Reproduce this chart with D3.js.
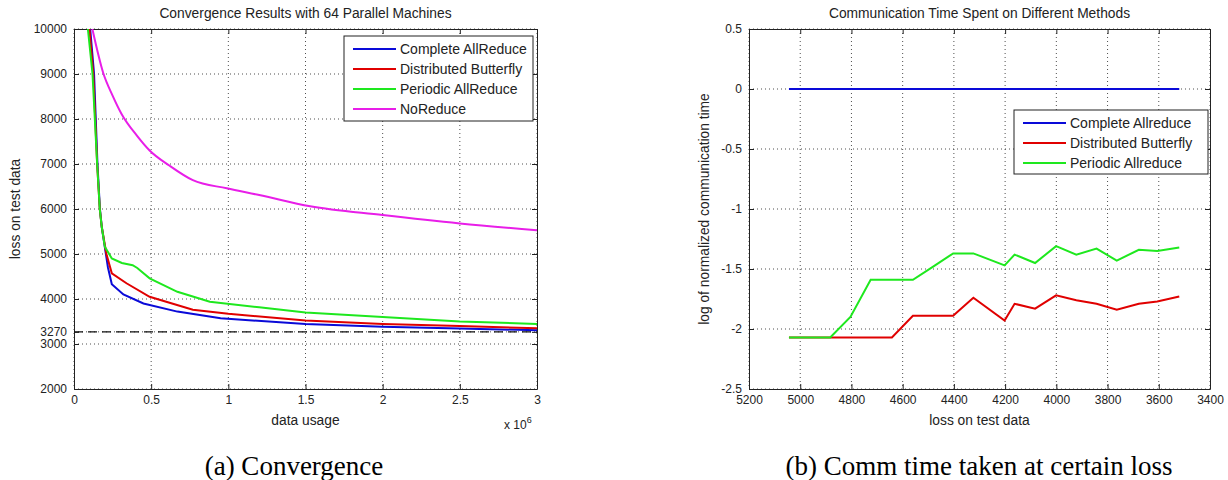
<!DOCTYPE html>
<html>
<head>
<meta charset="utf-8">
<script src="https://cdn.jsdelivr.net/npm/d3@7"></script>
<style>
  body { margin: 0; background: #fff; }
  text { font-family: "Liberation Sans", Arial, sans-serif; fill: #222; }
  .caption { font-family: "Liberation Serif", "Times New Roman", serif; fill: #000; }
</style>
</head>
<body>
<div id="chart"></div>
<script>
// ---- data: (a) convergence, x in units of 1e6 samples
const usageTicks = [0, 0.5, 1, 1.5, 2, 2.5, 3];
const lossTicks = [2000, 3000, 3270, 4000, 5000, 6000, 7000, 8000, 9000, 10000];

const usageComplete = [0.105, 0.13, 0.152, 0.168, 0.18, 0.22, 0.245, 0.32, 0.45, 0.67, 0.95, 1.5, 2.0, 2.5, 3.0];
const lossComplete  = [10000, 9000, 7000, 6000, 5600, 4700, 4330, 4100, 3900, 3720, 3570, 3445, 3385, 3345, 3305];

const usageButterfly = [0.1, 0.125, 0.15, 0.167, 0.18, 0.21, 0.245, 0.34, 0.49, 0.77, 1.0, 1.5, 2.0, 2.5, 3.0];
const lossButterfly  = [10000, 9000, 7000, 6000, 5600, 5000, 4570, 4350, 4050, 3760, 3670, 3520, 3445, 3400, 3350];

const usagePeriodic = [0.09, 0.12, 0.15, 0.167, 0.18, 0.2, 0.245, 0.31, 0.38, 0.41, 0.49, 0.67, 0.88, 1.2, 1.5, 2.0, 2.5, 3.0];
const lossPeriodic  = [10000, 9000, 7000, 6000, 5600, 5160, 4900, 4800, 4750, 4690, 4460, 4160, 3940, 3815, 3700, 3600, 3500, 3445];

const usageNoReduce = [0.119, 0.19, 0.25, 0.31, 0.41, 0.49, 0.62, 0.77, 0.99, 1.2, 1.53, 2.0, 2.5, 3.0];
const lossNoReduce  = [10000, 9016, 8520, 8100, 7620, 7300, 6960, 6640, 6460, 6310, 6060, 5865, 5680, 5530];

const optimalLoss = 3270;

// ---- data: (b) communication time at a given test loss
const testLossTicks = [5200, 5000, 4800, 4600, 4400, 4200, 4000, 3800, 3600, 3400];
const logTimeTicks = [-2.5, -2, -1.5, -1, -0.5, 0, 0.5];
const testLoss = [5044, 4883, 4804, 4725, 4642, 4560, 4481, 4403, 4324, 4202, 4163, 4083, 4001, 3922, 3843, 3764, 3678, 3606, 3520];
const timeComplete  = [0, 0, 0, 0, 0, 0, 0, 0, 0, 0, 0, 0, 0, 0, 0, 0, 0, 0, 0];
const timeButterfly = [-2.07, -2.07, -2.07, -2.07, -2.07, -1.89, -1.89, -1.89, -1.74, -1.93, -1.79, -1.83, -1.72, -1.76, -1.79, -1.84, -1.79, -1.77, -1.73];
const timePeriodic  = [-2.07, -2.07, -1.90, -1.59, -1.59, -1.59, -1.48, -1.37, -1.37, -1.47, -1.38, -1.45, -1.31, -1.38, -1.33, -1.43, -1.34, -1.35, -1.32];

const BLUE = "#0a0ad8", RED = "#e00000", GREEN = "#1ee81e", MAGENTA = "#e81ee8";

const svg = d3.select("#chart").append("svg")
    .attr("width", 1228)
    .attr("height", 480);

// draws one MATLAB-style panel, returns the scales
function panel(opt) {
  const w = opt.x1 - opt.x0, h = opt.y1 - opt.y0;
  const g = svg.append("g").attr("transform", `translate(${opt.x0},${opt.y0})`);
  const x = d3.scaleLinear().domain(opt.xDomain).range([0, w]);
  const y = d3.scaleLinear().domain(opt.yDomain).range([h, 0]);

  // dotted grid
  g.selectAll("line.gx").data(opt.xTicks).enter().append("line")
      .attr("x1", d => x(d)).attr("x2", d => x(d))
      .attr("y1", 0).attr("y2", h)
      .attr("stroke", "#222").attr("stroke-width", 0.8)
      .attr("stroke-dasharray", "1,3");
  g.selectAll("line.gy").data(opt.yTicks).enter().append("line")
      .attr("y1", d => y(d)).attr("y2", d => y(d))
      .attr("x1", 0).attr("x2", w)
      .attr("stroke", "#222").attr("stroke-width", 0.8)
      .attr("stroke-dasharray", "1,3");

  // axes with inward ticks on all four sides
  const fmt = d => String(d);
  g.append("g").attr("transform", `translate(0,${h})`)
      .call(d3.axisBottom(x).tickValues(opt.xTicks).tickFormat(fmt).tickSizeInner(-5).tickSizeOuter(0).tickPadding(6));
  g.append("g")
      .call(d3.axisLeft(y).tickValues(opt.yTicks).tickFormat(fmt).tickSizeInner(-5).tickSizeOuter(0).tickPadding(7));
  g.append("g")
      .call(d3.axisTop(x).tickValues(opt.xTicks).tickFormat("").tickSizeInner(-5).tickSizeOuter(0));
  g.append("g").attr("transform", `translate(${w},0)`)
      .call(d3.axisRight(y).tickValues(opt.yTicks).tickFormat("").tickSizeInner(-5).tickSizeOuter(0));
  g.selectAll(".domain, .tick line").attr("stroke", "#222");
  g.selectAll(".tick text").style("font-size", "12px").style("font-family", "Liberation Sans, Arial, sans-serif").attr("fill", "#222");

  // title and axis labels
  g.append("text").attr("x", w / 2).attr("y", -11)
      .attr("text-anchor", "middle").style("font-size", "13.8px")
      .text(opt.title);
  g.append("text").attr("x", w / 2).attr("y", h + 36)
      .attr("text-anchor", "middle").style("font-size", "13.8px")
      .text(opt.xLabel);
  g.append("text").attr("transform", "rotate(-90)")
      .attr("x", -h / 2).attr("y", opt.yLabelX)
      .attr("text-anchor", "middle").style("font-size", "13.8px")
      .text(opt.yLabel);

  return {g, x, y, w, h};
}

function legend(g, items, box) {
  const lg = g.append("g").attr("transform", `translate(${box.x},${box.y})`);
  lg.append("rect").attr("width", box.w).attr("height", box.h)
      .attr("fill", "#fff").attr("stroke", "#222").attr("stroke-width", 1);
  items.forEach((it, i) => {
    const cy = box.first + i * box.step;
    lg.append("line").attr("x1", 9).attr("x2", 52).attr("y1", cy).attr("y2", cy)
        .attr("stroke", it.color).attr("stroke-width", 2);
    lg.append("text").attr("x", 56).attr("y", cy + 5)
        .style("font-size", "14px").text(it.name);
  });
}

function drawLine(p, xs, ys, color, dash, curve) {
  const pts = xs.map((d, i) => [d, ys[i]]);
  p.g.append("path").datum(pts)
      .attr("fill", "none")
      .attr("stroke", color)
      .attr("stroke-width", dash ? 1.2 : 2)
      .attr("stroke-dasharray", dash || null)
      .attr("d", d3.line().curve(curve || d3.curveLinear).x(d => p.x(d[0])).y(d => p.y(d[1])));
}

// ---- (a) Convergence
const pa = panel({
  x0: 74, x1: 537, y0: 29, y1: 389,
  xDomain: [0, 3], yDomain: [2000, 10000],
  xTicks: usageTicks, yTicks: lossTicks,
  title: "Convergence Results with 64 Parallel Machines",
  xLabel: "data usage", yLabel: "loss on test data", yLabelX: -54
});
drawLine(pa, [0, 3], [optimalLoss, optimalLoss], "#111", "9,5");
drawLine(pa, usageComplete, lossComplete, BLUE);
drawLine(pa, usageButterfly, lossButterfly, RED);
drawLine(pa, usagePeriodic, lossPeriodic, GREEN);
drawLine(pa, usageNoReduce, lossNoReduce, MAGENTA, null, d3.curveMonotoneX);

// exponent label under the x axis
const ex = pa.g.append("text").attr("x", pa.w - 33).attr("y", pa.h + 40).style("font-size", "12px");
ex.append("tspan").text("x 10");
ex.append("tspan").attr("dy", -6).style("font-size", "9px").text("6");

legend(pa.g, [
  {name: "Complete AllReduce", color: BLUE},
  {name: "Distributed Butterfly", color: RED},
  {name: "Periodic AllReduce", color: GREEN},
  {name: "NoReduce", color: MAGENTA}
], {x: 270, y: 7, w: 189, h: 85, first: 13, step: 20});

// ---- (b) Communication time
const pb = panel({
  x0: 749, x1: 1210, y0: 29, y1: 389,
  xDomain: [5200, 3400], yDomain: [-2.5, 0.5],
  xTicks: testLossTicks, yTicks: logTimeTicks,
  title: "Communication Time Spent on Different Methods",
  xLabel: "loss on test data", yLabel: "log of normalized communication time", yLabelX: -40
});
drawLine(pb, testLoss, timeComplete, BLUE);
drawLine(pb, testLoss, timeButterfly, RED);
drawLine(pb, testLoss, timePeriodic, GREEN);

legend(pb.g, [
  {name: "Complete Allreduce", color: BLUE},
  {name: "Distributed Butterfly", color: RED},
  {name: "Periodic Allreduce", color: GREEN}
], {x: 265, y: 81, w: 194, h: 64, first: 13, step: 20});

// ---- captions
svg.append("text").attr("class", "caption").attr("x", 294).attr("y", 475)
    .attr("text-anchor", "middle").style("font-size", "27px").text("(a) Convergence");
svg.append("text").attr("class", "caption").attr("x", 979).attr("y", 475)
    .attr("text-anchor", "middle").style("font-size", "27px").text("(b) Comm time taken at certain loss");
</script>
</body>
</html>
